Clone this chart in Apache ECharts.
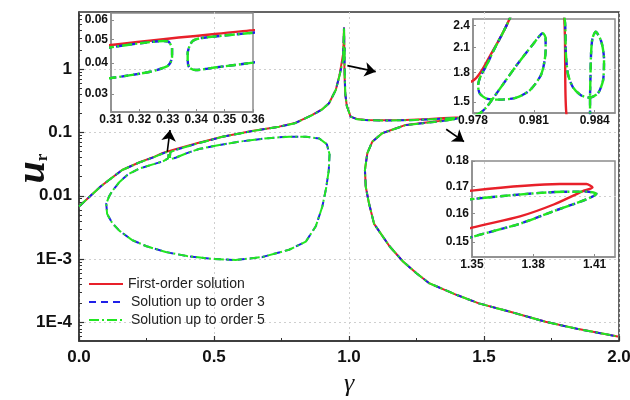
<!DOCTYPE html>
<html>
<head>
<meta charset="utf-8">
<script src="https://cdn.jsdelivr.net/npm/echarts@6/dist/echarts.min.js"></script>
<style>
html,body{margin:0;padding:0;background:#fff;}
#chart{width:630px;height:400px;}
</style>
</head>
<body>
<div id="chart"></div>
<script>
// Response amplitude u_r versus frequency ratio gamma (log amplitude scale),
// first-order solution against the order-3 and order-5 approximations.

// [gamma, u_r] along the first-order solution branch
const firstOrder = [
  [0.000,0.0068],[0.037,0.0095],[0.080,0.0140],[0.111,0.0177],[0.160,0.0255],[0.222,0.0335],
  [0.280,0.0415],[0.310,0.0474],[0.360,0.0545],[0.440,0.0680],[0.531,0.0855],[0.640,0.1050],
  [0.741,0.1230],[0.800,0.1400],[0.864,0.1880],[0.900,0.2300],[0.926,0.2880],[0.951,0.4670],
  [0.965,0.800],[0.978,1.71],[0.9789,2.02],[0.9798,2.50],[0.9808,3.50],[0.9815,4.50],
  [0.9821,3.30],[0.9825,2.50],[0.9826,1.40],[0.9835,0.80],[0.9860,0.40],[0.9920,0.26],
  [1.006,0.177],[1.030,0.162],[1.062,0.157],[1.120,0.155],[1.210,0.157],[1.296,0.163],
  [1.350,0.1684],[1.393,0.1709],[1.406,0.1709],[1.409,0.1696],[1.404,0.1681],[1.390,0.1632],
  [1.3735,0.1589],[1.350,0.1549],[1.333,0.151],[1.210,0.131],[1.123,0.097],[1.086,0.071],
  [1.068,0.047],[1.059,0.0256],[1.062,0.0139],[1.074,0.0076],[1.093,0.0036],[1.150,0.0016],
  [1.200,0.00092],[1.250,0.00060],[1.296,0.00042],[1.400,0.000272],[1.481,0.000201],
  [1.600,0.000147],[1.728,0.000103],[1.850,0.000079],[2.000,0.000060]
];

// [gamma, u_r] along the order-3 / order-5 solution branch (the two coincide at plot scale)
const higherOrder = [
  [0.000,0.0068],[0.037,0.0095],[0.080,0.0140],[0.111,0.0177],[0.160,0.0255],[0.222,0.0333],
  [0.280,0.0410],[0.310,0.0464],[0.3203,0.0482],[0.3285,0.0492],[0.3303,0.0489],[0.3315,0.0458],
  [0.3315,0.0425],[0.3309,0.0402],[0.3297,0.0388],[0.3238,0.0369],[0.310,0.0348],[0.280,0.0318],
  [0.222,0.0268],[0.180,0.0215],[0.150,0.0165],[0.125,0.0122],[0.111,0.0097],[0.101,0.0075],
  [0.104,0.0052],[0.123,0.0037],[0.150,0.0028],[0.197,0.00200],[0.250,0.00160],[0.321,0.00130],
  [0.400,0.00112],[0.494,0.00101],[0.580,0.00097],[0.679,0.00108],[0.778,0.00141],[0.840,0.00189],
  [0.877,0.0033],[0.901,0.0067],[0.915,0.0130],[0.925,0.0250],[0.928,0.0450],[0.918,0.0650],
  [0.890,0.0800],[0.840,0.0855],[0.778,0.0855],[0.700,0.0810],[0.593,0.0713],[0.500,0.0610],
  [0.444,0.0545],[0.400,0.0470],[0.360,0.0402],[0.3473,0.0385],[0.3397,0.0375],[0.3375,0.0385],
  [0.3370,0.0412],[0.3370,0.0439],[0.3385,0.0489],[0.3414,0.0505],[0.360,0.0532],[0.440,0.0670],
  [0.531,0.0850],[0.640,0.1045],[0.741,0.1225],[0.800,0.1395],[0.864,0.1875],[0.900,0.2290],
  [0.926,0.2870],[0.951,0.4650],[0.965,0.790],[0.97825,1.39],[0.97866,1.45],[0.97932,1.625],
  [0.98014,1.876],[0.98096,2.14],[0.98145,2.29],[0.98158,2.22],[0.98158,2.06],[0.98137,1.78],
  [0.98080,1.61],[0.98014,1.54],[0.97932,1.52],[0.97866,1.53],[0.97833,1.58],[0.97825,1.66],
  [0.97838,1.76],[0.97866,1.876],[0.97900,2.05],[0.97980,2.50],[0.98080,3.50],[0.98150,4.50],
  [0.98210,3.30],[0.98252,2.50],[0.98256,2.27],[0.98257,2.06],[0.98268,1.78],[0.98293,1.64],
  [0.98334,1.56],[0.98375,1.54],[0.98416,1.58],[0.98441,1.71],[0.98446,1.95],[0.98433,2.17],
  [0.98405,2.31],[0.98389,2.22],[0.98382,2.02],[0.98379,1.74],[0.98377,1.54],[0.98377,1.31],
  [0.9845,0.70],[0.9865,0.40],[0.9920,0.26],[1.006,0.177],[1.030,0.161],[1.062,0.156],
  [1.120,0.154],[1.210,0.155],[1.296,0.160],[1.350,0.1652],[1.3865,0.1677],[1.406,0.1680],
  [1.4109,0.1672],[1.406,0.1651],[1.3897,0.1607],[1.3735,0.1563],[1.350,0.1517],[1.333,0.148],
  [1.210,0.130],[1.123,0.097],[1.086,0.071],[1.068,0.047],[1.059,0.0256],[1.062,0.0139],
  [1.074,0.0076],[1.093,0.0036],[1.150,0.0016],[1.200,0.00092],[1.250,0.00060],[1.296,0.00042],
  [1.400,0.000272],[1.481,0.000201],[1.600,0.000147],[1.728,0.000103],[1.850,0.000079],
  [2.000,0.000060]
];

const seriesNames = ['First-order solution', 'Solution up to order 3', 'Solution up to order 5'];

// tick values
const mainYTicks = [1e-4, 1e-3, 0.01, 0.1, 1];
const inset1YTicks = [0.03, 0.04, 0.05, 0.06];
const inset2YTicks = [1.5, 1.8, 2.1, 2.4];
const inset3YTicks = [0.15, 0.16, 0.17, 0.18];

// pointer arrows from the curves towards the zoomed views: [from, to] in [gamma, u_r]
const pointers = [
  [[0.327, 0.0496], [0.337, 0.109]],
  [[0.994, 1.127], [1.099, 0.906]],
  [[1.360, 0.112], [1.426, 0.0713]]
];

// log-decade minor tick positions
const minorYTicks = [];
for (let e = -5; e <= 0; e++) {
  for (let k = 2; k <= 9; k++) minorYTicks.push(+(k * Math.pow(10, e)).toPrecision(3));
}

const SANS = "'Liberation Sans', Arial, sans-serif";
const SERIF = "'Liberation Serif', 'Times New Roman', serif";
const RED = '#e8202a', BLUE = '#2020e8', GREEN = '#22e622';

function mainYLabel(v) {
  const e = Math.round(Math.log10(v));
  if (e >= 0) return String(Math.pow(10, e));
  if (e >= -2) return Math.pow(10, e).toFixed(-e);
  return '1E' + e;
}

const chart = echarts.init(document.getElementById('chart'), null, {renderer: 'canvas'});

const insetLabel = {fontFamily: SANS, fontWeight: 'bold', fontSize: 12, color: '#111'};
const insetAxisLine = {show: true, lineStyle: {color: '#8c8c8c', width: 1.5}};
const insetTick = {inside: true, length: 3, lineStyle: {color: '#8c8c8c', width: 1}};

function insetX(gridIndex, min, max, interval, digits, showMax) {
  return {
    type: 'value', gridIndex, min, max, interval,
    axisLine: insetAxisLine, axisTick: insetTick,
    axisLabel: Object.assign({margin: 2, showMaxLabel: showMax, formatter: v => v.toFixed(digits)}, insetLabel),
    splitLine: {show: false}
  };
}
function insetY(gridIndex, min, max, ticks, digits) {
  return {
    type: 'log', logBase: 10, gridIndex, min, max,
    axisLine: insetAxisLine,
    axisTick: Object.assign({customValues: ticks}, insetTick),
    axisLabel: Object.assign({margin: 3, customValues: ticks, formatter: v => v.toFixed(digits)}, insetLabel),
    splitLine: {show: false}
  };
}

const lineStyles = [
  {color: RED, width: 2, type: 'solid'},
  {color: BLUE, width: 2, type: [7, 5]},
  {color: GREEN, width: 2, type: [10, 3, 2, 3]}
];
const seriesData = [firstOrder, higherOrder, higherOrder];

const series = [];
for (let g = 0; g < 4; g++) {
  for (let i = 0; i < 3; i++) {
    const ls = Object.assign({}, lineStyles[i]);
    if (g > 0) ls.width = 2.4;
    const s = {
      name: seriesNames[i], type: 'line', xAxisIndex: g, yAxisIndex: g === 0 ? 0 : g + 1,
      data: seriesData[i], showSymbol: false, symbol: 'none', smooth: g === 0 ? false : 0.25,
      clip: true, lineStyle: ls, color: lineStyles[i].color, animation: false, z: 2 + i
    };
    if (g === 0 && i === 0) {
      s.markLine = {
        silent: true, animation: false, symbol: ['none', 'arrow'], symbolSize: 11,
        label: {show: false}, lineStyle: {color: '#000', width: 1.6, type: 'solid', opacity: 1},
        itemStyle: {color: '#000'},
        emphasis: {disabled: true},
        data: pointers.map(p => [{coord: p[0]}, {coord: p[1]}])
      };
    }
    series.push(s);
  }
}

const gridBase = {show: true, borderWidth: 1.5, containLabel: false, outerBoundsMode: 'none'};

const option = {
  backgroundColor: '#fff',
  animation: false,
  grid: [
    Object.assign({left: 79, right: 11, top: 12, bottom: 59, borderColor: '#333'}, gridBase),
    Object.assign({left: 111, width: 142, top: 13, height: 99, borderColor: '#8c8c8c'}, gridBase),
    Object.assign({left: 473, width: 142, top: 19, height: 94, borderColor: '#8c8c8c'}, gridBase),
    Object.assign({left: 472, width: 143, top: 161, height: 96, borderColor: '#8c8c8c'}, gridBase)
  ],
  legend: {
    orient: 'vertical', left: 83, top: 272, itemWidth: 34, itemHeight: 14, itemGap: 4,
    textStyle: {fontFamily: SANS, fontSize: 14, color: '#222'},
    itemStyle: {opacity: 0},
    data: [
      {name: seriesNames[0]},
      {name: seriesNames[1], textStyle: {padding: [0, 0, 0, 3]}},
      {name: seriesNames[2], textStyle: {padding: [0, 0, 0, 3]}}
    ]
  },
  xAxis: [
    {
      type: 'value', gridIndex: 0, min: 0, max: 2, interval: 0.5,
      name: 'γ', nameLocation: 'middle', nameGap: 27,
      nameTextStyle: {fontFamily: SERIF, fontStyle: 'italic', fontSize: 26, color: '#111'},
      axisLine: {show: true, lineStyle: {color: '#333', width: 1.5}},
      axisTick: {inside: true, length: 5, lineStyle: {color: '#333', width: 1.2}},
      minorTick: {show: true, splitNumber: 2, length: 3, lineStyle: {color: '#333', width: 1}},
      axisLabel: {margin: 8, fontFamily: SANS, fontWeight: 'bold', fontSize: 17, color: '#111', formatter: v => v.toFixed(1)},
      splitLine: {show: true, lineStyle: {color: '#cfcfcf', type: [2, 3], width: 1}}
    },
    insetX(1, 0.31, 0.36, 0.01, 2, true),
    insetX(2, 0.978, 0.985, 0.003, 3, false),
    insetX(3, 1.35, 1.42, 0.03, 2, false)
  ],
  yAxis: [
    {
      type: 'log', logBase: 10, gridIndex: 0, min: 5.13e-5, max: 7.9, position: 'left',
      name: '{u|u}{r|r}', nameLocation: 'middle', nameRotate: 90, nameGap: 25,
      nameMoveOverlap: false,
      nameTextStyle: {
        rich: {
          u: {fontFamily: SERIF, fontStyle: 'italic', fontWeight: 'bold', fontSize: 40, color: '#111', padding: [0, 0, 0, 16]},
          r: {fontFamily: SERIF, fontWeight: 'bold', fontSize: 17, color: '#111', padding: [18, 0, 0, 0]}
        }
      },
      axisLine: {show: true, lineStyle: {color: '#333', width: 1.5}},
      axisTick: {inside: true, length: 5, customValues: mainYTicks, lineStyle: {color: '#333', width: 1.2}},
      axisLabel: {margin: 7, customValues: mainYTicks, fontFamily: SANS, fontWeight: 'bold', fontSize: 17, color: '#111', formatter: mainYLabel},
      splitLine: {show: true, lineStyle: {color: '#cfcfcf', type: [2, 3], width: 1}}
    },
    {
      type: 'log', logBase: 10, gridIndex: 0, min: 5.13e-5, max: 7.9, position: 'left',
      axisLine: {show: false},
      axisTick: {inside: true, length: 3, customValues: minorYTicks, lineStyle: {color: '#333', width: 1}},
      axisLabel: {show: false},
      splitLine: {show: false}
    },
    insetY(1, 0.0253, 0.064, inset1YTicks, 2),
    insetY(2, 1.4, 2.5, inset2YTicks, 1),
    insetY(3, 0.145, 0.18, inset3YTicks, 2)
  ],
  series
};

chart.setOption(option);
</script>
</body>
</html>
